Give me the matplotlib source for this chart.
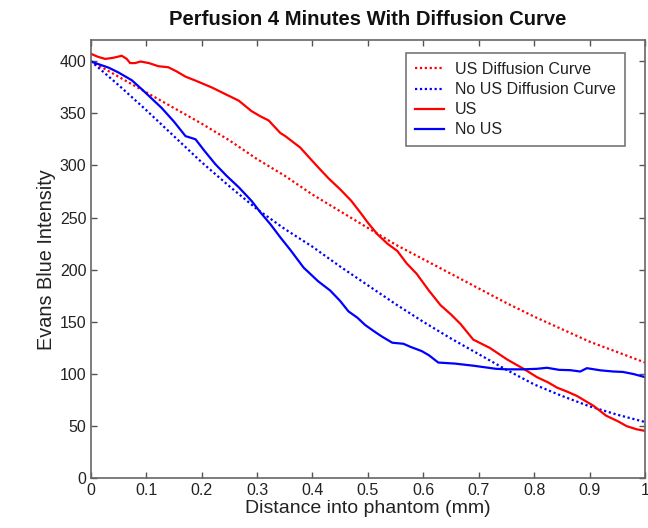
import numpy as np
import matplotlib
matplotlib.use('Agg')
import matplotlib.pyplot as plt

plt.rcParams['font.family'] = ['Liberation Sans', 'DejaVu Sans']

# diffusion model curves (at 0.05 mm steps)
x_fit = [0, 0.05, 0.1, 0.15, 0.2, 0.25, 0.3, 0.35, 0.4, 0.45, 0.5,
         0.55, 0.6, 0.65, 0.7, 0.75, 0.8, 0.85, 0.9, 0.95, 1.0]
us_fit = [400, 385, 370, 355, 340, 324, 306, 290, 272, 256, 240,
          224, 210, 196, 182, 168, 155, 143, 131, 121, 111]
nous_fit = [400, 377, 353, 328, 303, 280, 258, 239, 222, 203, 185,
            167, 150, 134, 119, 104, 90, 79, 69, 61, 54]

# measured profiles
x_us = [0.0, 0.013, 0.026, 0.04, 0.056, 0.065, 0.071, 0.08, 0.09, 0.105,
        0.122, 0.14, 0.155, 0.171, 0.19, 0.219, 0.24, 0.267, 0.29, 0.306,
        0.321, 0.342, 0.351, 0.378, 0.395, 0.414, 0.43, 0.45, 0.47, 0.486,
        0.5, 0.517, 0.535, 0.553, 0.57, 0.588, 0.61, 0.631, 0.65, 0.667,
        0.69, 0.72, 0.751, 0.784, 0.805, 0.825, 0.841, 0.86, 0.877, 0.907,
        0.93, 0.95, 0.967, 0.985, 1.0]
y_us = [407, 404, 402, 403, 405, 402, 398, 398, 399.5, 398,
        395, 394, 390, 385, 381, 374.5, 369, 362, 352, 347,
        343, 331, 328, 317, 307, 296, 287, 277, 266, 255,
        245, 234, 225, 218, 206, 196, 180, 166, 157, 148,
        133, 125, 114, 104, 97, 92, 87, 83, 79, 69.5,
        60, 55, 50, 47, 45.5]

x_nous = [0.0, 0.032, 0.05, 0.074, 0.092, 0.11, 0.128, 0.15, 0.171, 0.189,
          0.205, 0.225, 0.245, 0.267, 0.29, 0.306, 0.325, 0.342, 0.36, 0.384,
          0.41, 0.432, 0.45, 0.465, 0.481, 0.495, 0.511, 0.525, 0.544, 0.564,
          0.577, 0.597, 0.61, 0.627, 0.657, 0.69, 0.731, 0.75, 0.78, 0.805,
          0.823, 0.845, 0.865, 0.883, 0.895, 0.92, 0.943, 0.96, 0.979, 1.0]
y_nous = [399.5, 393.7, 389, 381.6, 373, 364, 355, 342, 328, 325,
          314, 301, 290, 279, 266, 255, 243, 231, 219, 202,
          189, 180, 170, 160, 154, 147, 141, 136, 130, 129,
          126, 122, 118, 111, 110, 108, 105, 104.5, 104.5, 105,
          106, 104, 103.7, 102.4, 105.6, 103.5, 102.4, 102, 100, 97]

fig = plt.figure(figsize=(6.48, 5.28), dpi=100)
ax = fig.add_axes([0.140, 0.094, 0.8555, 0.830])

dot = (0, (1, 1.2))
ax.plot(x_fit, us_fit, color='#ff0000', ls=dot, lw=1.6, label='US Diffusion Curve')
ax.plot(x_fit, nous_fit, color='#0000ff', ls=dot, lw=1.6, label='No US Diffusion Curve')
ax.plot(x_us, y_us, color='#ff0000', lw=1.6, label='US')
ax.plot(x_nous, y_nous, color='#0000ff', lw=1.6, label='No US')

ax.set_xlim(0, 1)
ax.set_ylim(0, 420)
ax.set_xticks(np.arange(0, 1.01, 0.1))
ax.set_xticklabels(['0', '0.1', '0.2', '0.3', '0.4', '0.5', '0.6', '0.7', '0.8', '0.9', '1'])
ax.set_yticks(np.arange(0, 401, 50))
ax.tick_params(direction='in', top=True, right=True, length=4, width=1,
               color='#555555', labelsize=11.5, labelcolor='#222222', pad=3)
for s in ax.spines.values():
    s.set_color('#666666')
    s.set_linewidth(1.2)

ax.set_xlabel('Distance into phantom (mm)', fontsize=14, color='#222222', labelpad=2)
ax.set_ylabel('Evans Blue Intensity', fontsize=14.3, color='#222222', labelpad=3)
ax.set_title('Perfusion 4 Minutes With Diffusion Curve', fontsize=14.6, fontweight='bold',
             color='#111111', pad=11)

leg = ax.legend(loc='upper right', bbox_to_anchor=(0.963, 0.970), borderaxespad=0,
                fontsize=11.5, fancybox=False, handlelength=1.8, handletextpad=0.7,
                labelspacing=0.32, borderpad=0.55)
leg.get_frame().set_edgecolor('#555555')
leg.get_frame().set_linewidth(1.2)
for t in leg.get_texts():
    t.set_color('#222222')

fig.savefig('out.png', dpi=100)
